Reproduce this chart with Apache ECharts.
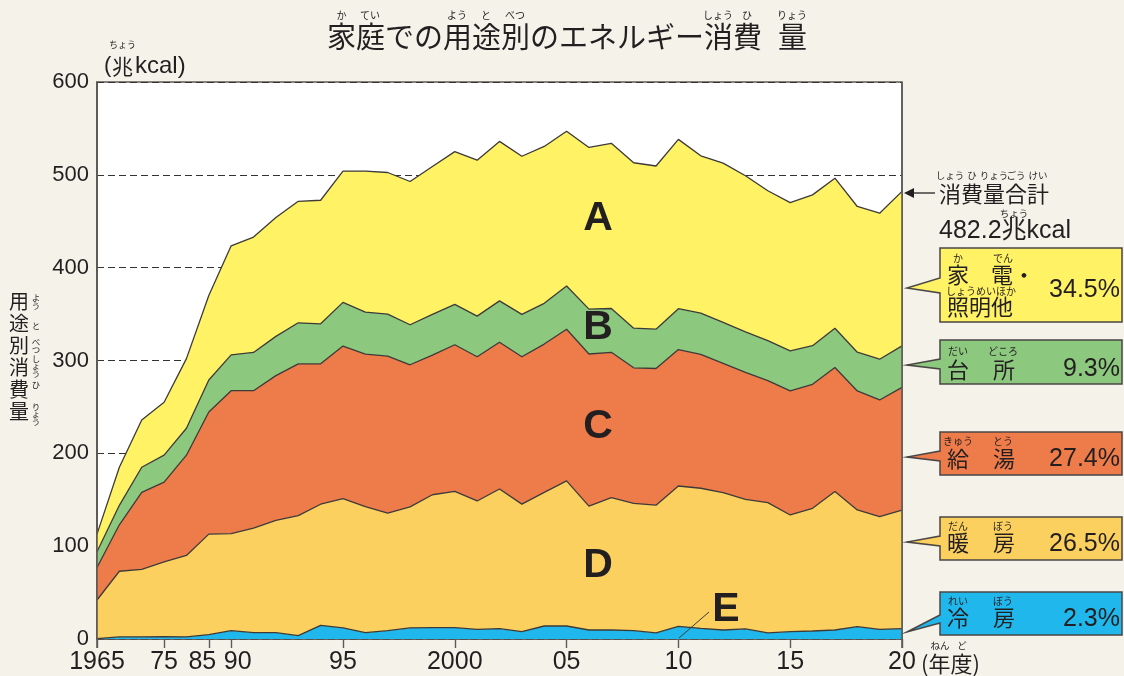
<!DOCTYPE html>
<html>
<head>
<meta charset="utf-8">
<script src="https://cdn.jsdelivr.net/npm/echarts@6/dist/echarts.min.js"></script>
<style>
  html, body { margin: 0; padding: 0; background: #f5f2ea; }
  #chart { width: 1124px; height: 676px; }
</style>
</head>
<body>
<div id="chart"></div>
<script>
// 年度 (data points; spacing is uniform in the original figure)
const years = ['1965', '1970', '1973', '1975', '1980', '1985', '1990', '1991', '1992', '1993',
  '1994', '1995', '1996', '1997', '1998', '1999', '2000', '2001', '2002', '2003',
  '2004', '2005', '2006', '2007', '2008', '2009', '2010', '2011', '2012', '2013',
  '2014', '2015', '2016', '2017', '2018', '2019', '2020'];
const tickLabels = ['1965', '', '', '75', '', '85', '90', '', '', '',
  '', '95', '', '', '', '', '2000', '', '', '',
  '', '05', '', '', '', '', '10', '', '', '',
  '', '15', '', '', '', '', '20'];

// 兆kcal
const cooling = [0.5, 2.2, 2.2, 2.5, 2.2, 4.7, 9.0, 6.8, 6.8, 3.6, 14.7, 11.9, 6.8, 9.0, 11.9, 12.2, 12.2, 10.4, 11.1, 7.9,
  14.0, 14.0, 9.7, 9.7, 9.0, 6.5, 13.6, 11.5, 9.7, 10.8, 6.5, 7.9, 8.6, 9.7, 13.3, 10.4, 11.1];
const heating = [41.5, 70.8, 72.8, 80.5, 87.8, 108.3, 104.6, 112.6, 121.0, 129.3, 130.5, 139.4, 135.7, 126.5, 130.5, 143.2, 146.9, 138.3, 150.5, 137.4,
  144.0, 156.3, 133.4, 142.7, 137.1, 137.7, 151.2, 150.9, 148.0, 139.7, 140.4, 125.7, 132.2, 149.1, 125.7, 121.4, 127.8];
const hotWater = [35, 50, 83, 86, 108, 131.5, 153.9, 148.1, 155.9, 163.5, 151.2, 164.3, 164.3, 169.3, 153.0, 150.4, 157.9, 155.3, 158.0, 158.7,
  159.7, 163.4, 163.9, 156.4, 146.0, 147.2, 147.0, 144.3, 139.3, 136.8, 131.5, 133.6, 133.6, 133.6, 128.2, 125.7, 132.1];
const kitchen = [17, 21, 27, 29, 29, 34.5, 38.5, 41.2, 42.3, 44.2, 43.1, 47.0, 45.4, 45.2, 43.1, 43.9, 43.5, 43.8, 44.6, 45.7,
  43.9, 46.5, 48.3, 47.2, 42.7, 42.3, 44.0, 44.3, 44.0, 43.5, 43.1, 43.1, 41.6, 42.4, 41.7, 43.9, 44.8];
const appliances = [19, 41, 51, 57, 75, 91, 117.5, 124.3, 128.0, 130.9, 133.1, 141.4, 151.8, 152.5, 154.3, 159.3, 164.5, 168.0, 171.8, 170.3,
  169.0, 166.8, 174.2, 178.0, 178.2, 175.8, 182.4, 169.5, 171.6, 168.2, 161.3, 159.7, 162.4, 161.6, 157.0, 157.3, 166.4];

const yTicks = [0, 100, 200, 300, 400, 500, 600];
const totalLabel = '482.2兆kcal';
const shares = ['34.5%', '9.3%', '27.4%', '26.5%', '2.3%'];

const CJK = '"Noto Sans CJK JP", sans-serif';
const LAT = '"Liberation Sans", Arial, "Noto Sans CJK JP", sans-serif';
const INK = '#231f20';
const EDGE = '#3d3a39';

const chart = echarts.init(document.getElementById('chart'));

function txt(text, x, y, size, a, family, weight, extra) {
  a = a || 'center';
  return {
    type: 'text', z: 100, silent: true, x: x, y: y,
    style: Object.assign({
      text: text, fill: INK, fontSize: size, fontFamily: family || CJK, fontWeight: weight || 'normal',
      align: a, verticalAlign: 'middle', textAlign: a, textVerticalAlign: 'middle'
    }, extra || {})
  };
}
function line(x1, y1, x2, y2, w, color) {
  return { type: 'line', z: 100, silent: true, shape: { x1: x1, y1: y1, x2: x2, y2: y2 },
    style: { stroke: color || EDGE, lineWidth: w || 1 } };
}

const g = [];

// title
g.push(txt('家庭での用途別のエネルギー消費', 327, 37, 29, 'left'));
g.push(txt('量', 778, 37, 29, 'left'));
[['か', 341.5], ['てい', 370], ['よう', 457], ['と', 486], ['べつ', 515], ['しょう', 718], ['ひ', 747], ['りょう', 792]]
  .forEach(r => g.push(txt(r[0], r[1], 15, 10)));

// unit
g.push(txt('(', 104, 66, 22, 'left', LAT));
g.push(txt('兆', 122.5, 66, 21));
g.push(txt('kcal)', 135, 66, 24, 'left', LAT));
g.push(txt('ちょう', 122.5, 45, 9));

// vertical y-axis name
['用', '途', '別', '消', '費', '量'].forEach((c, i) => g.push(txt(c, 19, 301 + i * 22, 20)));
[['よう', 302], ['と', 326], ['べつ', 346], ['しょう', 366], ['ひ', 385], ['りょう', 414]].forEach(r =>
  g.push(txt(r[0].split('').join('\n'), 36, r[1], 8.5, 'center', CJK, 'normal', { lineHeight: 7.5 })));

// x-axis unit
g.push(txt('(年度)', 921, 664, 22, 'left'));
g.push(txt('ねん', 940, 645, 9.5));
g.push(txt('ど', 962, 645, 9.5));

// plot frame lines on top of areas
g.push(line(97, 82, 97, 648, 1.6, '#5f5a57'));
g.push(line(902, 82, 902, 648, 1.6, '#5f5a57'));

// total annotation
g.push(line(913, 193, 935, 193, 1.3, INK));
g.push({ type: 'polygon', z: 100, silent: true, shape: { points: [[904, 193], [914, 188], [914, 198]] }, style: { fill: INK } });
g.push(txt('消費量合計', 939, 194, 22, 'left'));
[['しょう', 950], ['ひ', 972], ['りょう', 994], ['ごう', 1016], ['けい', 1038]].forEach(r => g.push(txt(r[0], r[1], 175, 9.5)));
g.push(txt(totalLabel, 939, 231, 25, 'left', LAT));
g.push(txt('ちょう', 1014, 213, 9.5));

// callout boxes
const boxes = [
  { fill: '#fff264', top: 248, bottom: 322, b1: 278, tip: 288, b2: 293, py: 290 },
  { fill: '#8cc87e', top: 340, bottom: 384, b1: 359, tip: 365, b2: 369, py: 369 },
  { fill: '#ee7b4a', top: 432, bottom: 475, b1: 451, tip: 457, b2: 461, py: 459 },
  { fill: '#fcd05e', top: 517, bottom: 560, b1: 536, tip: 542, b2: 546, py: 544 },
  { fill: '#20b8ec', top: 592, bottom: 635, b1: 615, tip: 632, b2: 623, py: 619 }
];
boxes.forEach((b, i) => {
  g.push({ type: 'polygon', z: 90, silent: true,
    shape: { points: [[940, b.top], [1122, b.top], [1122, b.bottom], [940, b.bottom], [940, b.b2], [907, b.tip], [940, b.b1]] },
    style: { fill: b.fill, stroke: '#4a4646', lineWidth: 1.5 } });
  g.push(txt(shares[i], 1120, b.py, 25, 'right', LAT));
});
// box A text
g.push(txt('家　電・', 947, 275, 22, 'left'));
g.push(txt('照明他', 947, 307, 22, 'left'));
g.push(txt('か', 958, 258, 10));
g.push(txt('でん', 1003, 258, 10));
g.push(txt('しょうめいほか', 981, 291.5, 10));
// boxes B–E text
[
  ['台', '所', 'だい', 'どころ', 370, 351.5],
  ['給', '湯', 'きゅう', 'とう', 459, 441],
  ['暖', '房', 'だん', 'ぼう', 543, 526.5],
  ['冷', '房', 'れい', 'ぼう', 618, 601]
].forEach(r => {
  g.push(txt(r[0], 958, r[4], 22));
  g.push(txt(r[1], 1004, r[4], 22));
  g.push(txt(r[2], 958, r[5], 10));
  g.push(txt(r[3], 1003, r[5], 10));
});

// area letters
[['A', 598, 219], ['B', 598, 328], ['C', 598, 427], ['D', 598, 566], ['E', 726, 610]].forEach(r =>
  g.push(txt(r[0], r[1], r[2], 41, 'center', LAT, 'bold')));
g.push(line(709, 612, 679, 638, 1, '#3a3a3a'));

function area(name, data, color) {
  return {
    name: name, type: 'line', stack: 'total', data: data, symbol: 'none', smooth: false,
    lineStyle: { color: EDGE, width: 1.3 },
    areaStyle: { color: color, opacity: 1 },
    emphasis: { disabled: true }
  };
}

chart.setOption({
  animation: false,
  backgroundColor: '#f5f2ea',
  grid: { left: 97, right: 222, top: 82, bottom: 37, show: true, backgroundColor: '#ffffff', borderColor: '#5f5a57', borderWidth: 1.6 },
  xAxis: {
    type: 'category',
    data: years,
    boundaryGap: false,
    axisLine: { lineStyle: { color: '#5f5a57', width: 1.6 } },
    axisTick: { interval: (i) => tickLabels[i] !== '', length: 9, lineStyle: { color: '#5f5a57', width: 1.4 } },
    axisLabel: {
      interval: (i) => tickLabels[i] !== '',
      formatter: (v, i) => tickLabels[i] === '85' ? '{l|85}' : tickLabels[i] === '90' ? '{r|90}' : tickLabels[i],
      color: INK, fontSize: 25, fontFamily: LAT, margin: 11,
      rich: {
        l: { fontSize: 25, fontFamily: LAT, color: INK, padding: [0, 13, 0, 0] },
        r: { fontSize: 25, fontFamily: LAT, color: INK, padding: [0, 0, 0, 13] }
      }
    },
    splitLine: { show: false }
  },
  yAxis: {
    type: 'value',
    min: yTicks[0], max: yTicks[yTicks.length - 1], interval: 100,
    axisLine: { show: true, lineStyle: { color: '#5f5a57', width: 1.6 } },
    axisTick: { show: false },
    axisLabel: { color: INK, fontSize: 22, fontFamily: LAT, margin: 8 },
    splitLine: {
      show: true,
      lineStyle: { color: '#333333', type: [7, 4], width: 1 }
    }
  },
  series: [
    area('冷房', cooling, '#20b8ec'),
    area('暖房', heating, '#fcd05e'),
    area('給湯', hotWater, '#ee7b4a'),
    area('台所', kitchen, '#8cc87e'),
    area('家電・照明他', appliances, '#fff264')
  ],
  graphic: g
});
</script>
</body>
</html>
